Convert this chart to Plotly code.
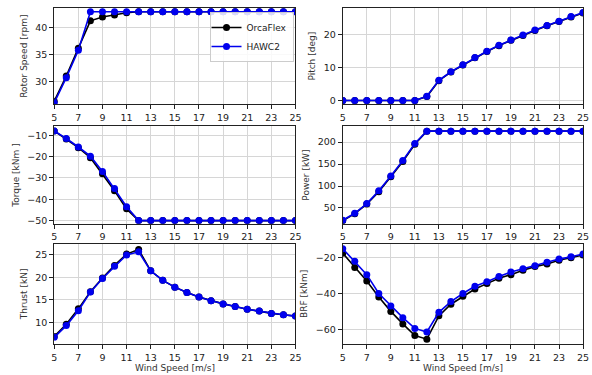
import plotly.graph_objects as go
from plotly.subplots import make_subplots

wind = list(range(5, 26))

rotor_orca = [26.3, 31.0, 36.2, 41.3, 42.0, 42.4, 42.8, 43.0, 43.0, 43.0, 43.0, 43.0, 43.0, 43.0, 43.0, 43.0, 43.0, 43.0, 43.0, 43.0, 43.0]
rotor_hawc = [26.0, 30.7, 35.8, 43.0, 43.0, 43.0, 43.0, 43.0, 43.0, 43.0, 43.0, 43.0, 43.0, 43.0, 43.0, 43.0, 43.0, 43.0, 43.0, 43.0, 43.0]

pitch_orca = [0, 0, 0, 0, 0, 0, 0, 1.2, 6.0, 8.6, 10.7, 12.9, 14.8, 16.6, 18.2, 19.7, 21.2, 22.6, 23.9, 25.3, 26.5]
pitch_hawc = [0, 0, 0, 0, 0, 0, 0, 1.3, 6.1, 8.7, 10.8, 13.0, 14.9, 16.7, 18.3, 19.8, 21.3, 22.7, 24.0, 25.4, 26.6]

torque_orca = [-8.0, -11.7, -15.8, -20.5, -28.0, -36.0, -44.5, -50, -50, -50, -50, -50, -50, -50, -50, -50, -50, -50, -50, -50, -50]
torque_hawc = [-8.0, -11.5, -15.5, -19.8, -27.0, -35.0, -43.5, -50, -50, -50, -50, -50, -50, -50, -50, -50, -50, -50, -50, -50, -50]

power_orca = [21, 37, 59, 87, 121, 156, 195, 225, 225, 225, 225, 225, 225, 225, 225, 225, 225, 225, 225, 225, 225]
power_hawc = [22, 38, 60, 89, 123, 158, 197, 225, 225, 225, 225, 225, 225, 225, 225, 225, 225, 225, 225, 225, 225]

thrust_orca = [6.9, 9.6, 13.0, 16.8, 19.8, 22.6, 25.1, 26.1, 21.4, 19.3, 17.8, 16.6, 15.6, 14.8, 14.1, 13.5, 12.9, 12.5, 12.0, 11.7, 11.4]
thrust_hawc = [6.7, 9.3, 12.6, 16.7, 19.7, 22.4, 24.9, 25.6, 21.4, 19.3, 17.8, 16.6, 15.6, 14.8, 14.1, 13.5, 12.9, 12.5, 12.0, 11.7, 11.4]

brf_orca = [-17.5, -25.5, -33.0, -42.0, -50.0, -57.0, -63.5, -65.5, -52.5, -46.0, -41.5, -37.5, -34.5, -31.5, -29.5, -27.0, -25.0, -23.5, -21.5, -20.0, -18.5]
brf_hawc = [-15.0, -22.0, -29.5, -40.0, -47.0, -53.5, -59.5, -61.5, -50.5, -44.5, -40.0, -36.0, -33.5, -30.5, -28.0, -26.2, -24.5, -22.5, -20.8, -19.5, -18.0]

x_ticks = [5, 7, 9, 11, 13, 15, 17, 19, 21, 23, 25]

panels = [
    (1, 1, rotor_orca, rotor_hawc, "Rotor Speed [rpm]", [25.7, 43.7], [30, 35, 40]),
    (1, 2, pitch_orca, pitch_hawc, "Pitch [deg]", [-1.2, 28.0], [0, 10, 20]),
    (2, 1, torque_orca, torque_hawc, "Torque [kNm ]", [-51.5, -5.8], [-50, -40, -30, -20, -10]),
    (2, 2, power_orca, power_hawc, "Power [kW]", [14, 236], [50, 100, 150, 200]),
    (3, 1, thrust_orca, thrust_hawc, "Thrust [kN]", [5.2, 27.4], [10, 15, 20, 25]),
    (3, 2, brf_orca, brf_hawc, "BRF [kNm]", [-68.3, -12.2], [-60, -40, -20]),
]

fig = make_subplots(rows=3, cols=2)

font = "DejaVu Sans, Arial, sans-serif"
for i, (r, c, orca, hawc, title, yr, yt) in enumerate(panels):
    first = (i == 0)
    fig.add_trace(go.Scatter(x=wind, y=orca, mode="lines+markers", name="OrcaFlex",
                             line=dict(color="black", width=1.6),
                             marker=dict(color="black", size=7),
                             showlegend=first), row=r, col=c)
    fig.add_trace(go.Scatter(x=wind, y=hawc, mode="lines+markers", name="HAWC2",
                             line=dict(color="#0000ee", width=1.6),
                             marker=dict(color="#0000ee", size=7),
                             showlegend=first), row=r, col=c)
    fig.update_yaxes(range=yr, tickvals=yt, title=dict(text=title, font=dict(size=9, color="#333"), standoff=6),
                     row=r, col=c)
    fig.update_xaxes(range=[5, 25], tickvals=x_ticks, row=r, col=c)

fig.update_xaxes(showline=True, mirror=True, linecolor="#222", linewidth=1,
                 showgrid=True, gridcolor="#d6d6d6", gridwidth=1, zeroline=False,
                 ticks="outside", ticklen=4, tickcolor="#222", ticklabeloverflow="allow",
                 tickfont=dict(size=9.5, color="#222"))
fig.update_yaxes(showline=True, mirror=True, linecolor="#222", linewidth=1,
                 showgrid=True, gridcolor="#d6d6d6", gridwidth=1, zeroline=False,
                 ticks="outside", ticklen=4, tickcolor="#222", ticklabeloverflow="allow",
                 tickfont=dict(size=9.5, color="#222"))

xl = [52 / 592, 297 / 592]
xr = [345 / 592, 589 / 592]
rows_px = [(8, 105), (127, 225), (245, 346)]
H = 375
for r, (t, b) in enumerate(rows_px, start=1):
    dom = [1 - b / H, 1 - t / H]
    fig.update_yaxes(domain=dom, row=r, col=1)
    fig.update_yaxes(domain=dom, row=r, col=2)
    fig.update_xaxes(domain=xl, row=r, col=1)
    fig.update_xaxes(domain=xr, row=r, col=2)

for xc in [(xl[0] + xl[1]) / 2, (xr[0] + xr[1]) / 2]:
    fig.add_annotation(text="Wind Speed [m/s]", x=xc, y=1 - 369.5 / H, xref="paper", yref="paper",
                       xanchor="center", yanchor="middle", showarrow=False,
                       font=dict(size=9, color="#333"))

fig.update_layout(
    width=592, height=375,
    margin=dict(l=0, r=0, t=0, b=0),
    paper_bgcolor="white", plot_bgcolor="white",
    font=dict(family=font, size=9.5, color="#222"),
    legend=dict(x=295 / 592, y=1 - 12 / H, xanchor="right", yanchor="top",
                bgcolor="rgba(255,255,255,0.85)", bordercolor="#ccc", borderwidth=1,
                font=dict(size=9), itemwidth=30, tracegroupgap=0, indentation=-4),
)

fig.write_html("out.html", config={"displayModeBar": False},
               post_script="document.body.style.margin='0';document.body.style.overflow='hidden';")
